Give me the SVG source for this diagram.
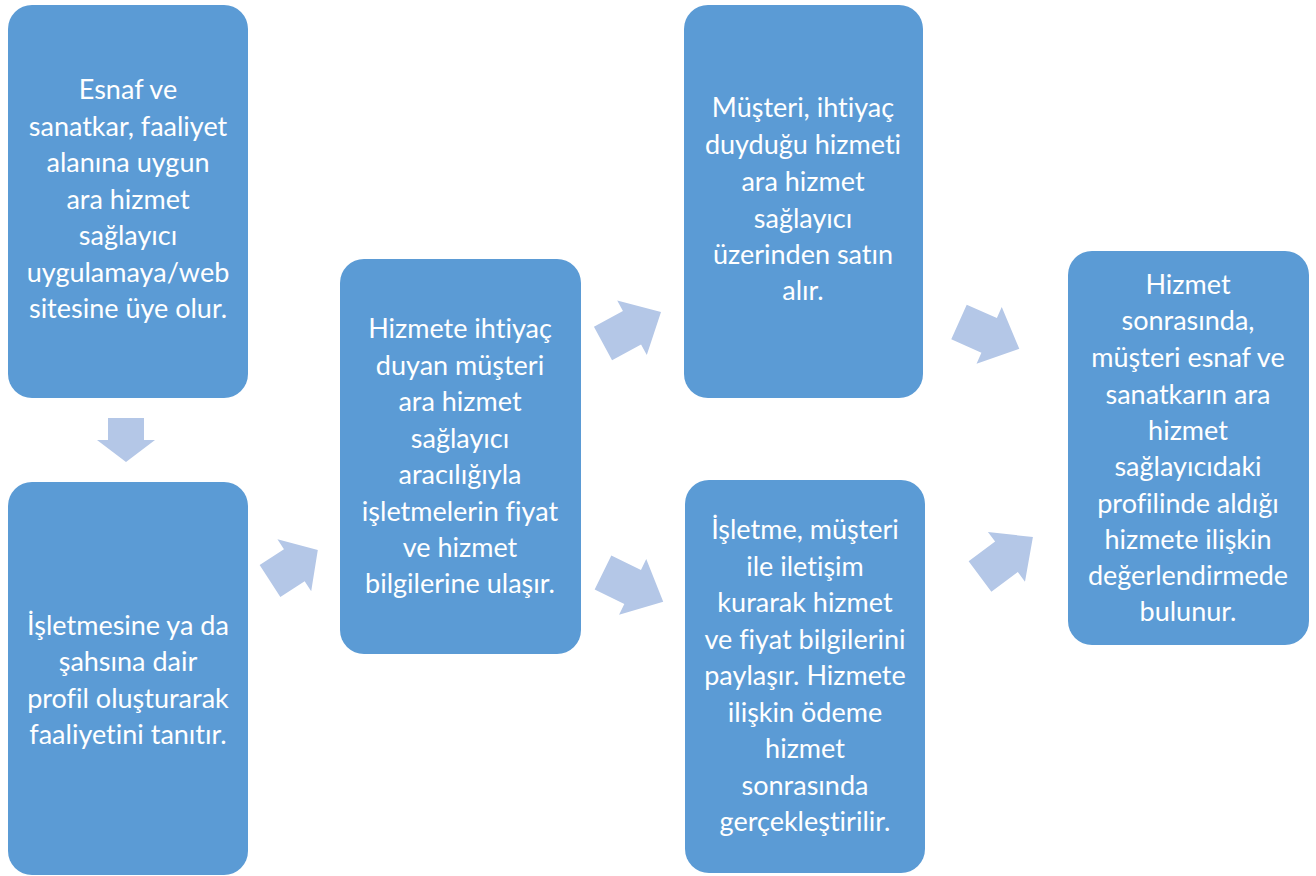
<svg xmlns="http://www.w3.org/2000/svg" width="1316" height="876" viewBox="0 0 1316 876">
<style>
.box{fill:#5B9BD5;}
.arr{fill:#B4C7E7;}
.t{font-family:Lato,"Open Sans","Liberation Sans",sans-serif;font-size:27px;fill:#FFFFFF;text-anchor:middle;font-variant-ligatures:none;}
</style>
<rect width="1316" height="876" fill="#FFFFFF"/>
<g id="connectors">
<polygon class="arr" transform="translate(126,418) rotate(90)" points="0,-18 22,-18 22,-29 44,0 22,29 22,18 0,18"/>
<polygon class="arr" transform="translate(270,581) rotate(-33)" points="0,-19 29,-19 29,-31 57,0 29,31 29,19 0,19"/>
<polygon class="arr" transform="translate(603,343.5) rotate(-28.5)" points="0,-19 33,-19 33,-31 66,0 33,31 33,19 0,19"/>
<polygon class="arr" transform="translate(603,572.5) rotate(26)" points="0,-19 33,-19 33,-31 67,0 33,31 33,19 0,19"/>
<polygon class="arr" transform="translate(959,322) rotate(24)" points="0,-19 33,-19 33,-31 66,0 33,31 33,19 0,19"/>
<polygon class="arr" transform="translate(980,576.5) rotate(-36.7)" points="0,-19 33,-19 33,-31 66,0 33,31 33,19 0,19"/>
</g>
<g id="n1">
<rect class="box" x="8" y="5" width="240" height="393" rx="24"/>
<text class="t"><tspan x="128" y="99">Esnaf ve</tspan><tspan x="128" y="136">sanatkar, faaliyet</tspan><tspan x="128" y="172">alanına uygun</tspan><tspan x="128" y="209">ara hizmet</tspan><tspan x="128" y="245">sağlayıcı</tspan><tspan x="128" y="282">uygulamaya/web</tspan><tspan x="128" y="318">sitesine üye olur.</tspan></text>
</g>
<g id="n2">
<rect class="box" x="8" y="482" width="240" height="393" rx="24"/>
<text class="t"><tspan x="128" y="635">İşletmesine ya da</tspan><tspan x="128" y="671">şahsına dair</tspan><tspan x="128" y="708">profil oluşturarak</tspan><tspan x="128" y="744">faaliyetini tanıtır.</tspan></text>
</g>
<g id="n3">
<rect class="box" x="340" y="259" width="241" height="395" rx="24"/>
<text class="t"><tspan x="460" y="338">Hizmete ihtiyaç</tspan><tspan x="460" y="375">duyan müşteri</tspan><tspan x="460" y="411">ara hizmet</tspan><tspan x="460" y="448">sağlayıcı</tspan><tspan x="460" y="484">aracılığıyla</tspan><tspan x="460" y="521">işletmelerin fiyat</tspan><tspan x="460" y="557">ve hizmet</tspan><tspan x="460" y="593">bilgilerine ulaşır.</tspan></text>
</g>
<g id="n4">
<rect class="box" x="684" y="5" width="239" height="393" rx="24"/>
<text class="t"><tspan x="803" y="117">Müşteri, ihtiyaç</tspan><tspan x="803" y="154">duyduğu hizmeti</tspan><tspan x="803" y="191">ara hizmet</tspan><tspan x="803" y="228">sağlayıcı</tspan><tspan x="803" y="264">üzerinden satın</tspan><tspan x="803" y="300">alır.</tspan></text>
</g>
<g id="n5">
<rect class="box" x="685" y="480" width="240" height="393" rx="24"/>
<text class="t"><tspan x="805" y="539">İşletme, müşteri</tspan><tspan x="805" y="576">ile iletişim</tspan><tspan x="805" y="612">kurarak hizmet</tspan><tspan x="805" y="649">ve fiyat bilgilerini</tspan><tspan x="805" y="685">paylaşır. Hizmete</tspan><tspan x="805" y="722">ilişkin ödeme</tspan><tspan x="805" y="758">hizmet</tspan><tspan x="805" y="795">sonrasında</tspan><tspan x="805" y="831">gerçekleştirilir.</tspan></text>
</g>
<g id="n6">
<rect class="box" x="1068" y="251" width="241" height="394" rx="24"/>
<text class="t"><tspan x="1188" y="294">Hizmet</tspan><tspan x="1188" y="330">sonrasında,</tspan><tspan x="1188" y="367">müşteri esnaf ve</tspan><tspan x="1188" y="404">sanatkarın ara</tspan><tspan x="1188" y="440">hizmet</tspan><tspan x="1188" y="476">sağlayıcıdaki</tspan><tspan x="1188" y="513">profilinde aldığı</tspan><tspan x="1188" y="549">hizmete ilişkin</tspan><tspan x="1188" y="585">değerlendirmede</tspan><tspan x="1188" y="621">bulunur.</tspan></text>
</g>
</svg>
